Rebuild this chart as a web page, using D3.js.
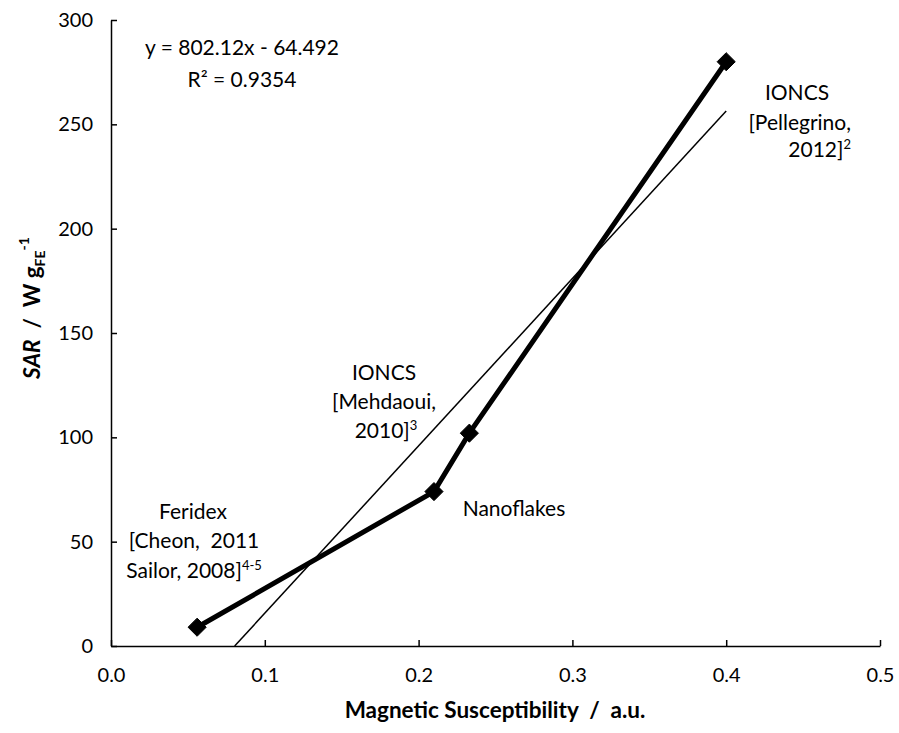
<!DOCTYPE html>
<html>
<head>
<meta charset="utf-8">
<script src="https://cdn.jsdelivr.net/npm/d3@7"></script>
<style>
  body { margin: 0; background: #fff; }
  svg { display: block; font-family: Lato, "Open Sans", sans-serif; }
  svg text { white-space: pre; }
  .axis path, .axis line { stroke: #000; stroke-width: 1.5px; }
  .axis text { font-size: 20px; fill: #000; font-family: Lato, sans-serif; }
  .lbl { font-size: 21px; fill: #000; }
</style>
</head>
<body>
<div id="chart"></div>
<script>
// SAR vs magnetic susceptibility, with linear trendline

const WIDTH = 899;
const HEIGHT = 733;
const margin = { top: 20, right: 19, bottom: 87, left: 111 };
const innerW = WIDTH - margin.left - margin.right;
const innerH = HEIGHT - margin.top - margin.bottom;

// data
const susceptibility = [0.056, 0.21, 0.233, 0.4];
const sar = [9, 74, 102, 280];

// trendline as shown by the chart
const slope = 802.12;
const intercept = -64.492;

const xTicks = [0, 0.1, 0.2, 0.3, 0.4, 0.5];
const yTicks = [0, 50, 100, 150, 200, 250, 300];

const svg = d3.select("#chart").append("svg")
  .attr("width", WIDTH)
  .attr("height", HEIGHT);

const g = svg.append("g")
  .attr("transform", `translate(${margin.left},${margin.top})`);

const x = d3.scaleLinear().domain([0, 0.5]).range([0, innerW]);
const y = d3.scaleLinear().domain([0, 300]).range([innerH, 0]);

// axes, ticks point inward
g.append("g")
  .attr("class", "axis")
  .attr("transform", `translate(0,${innerH})`)
  .call(d3.axisBottom(x).tickValues(xTicks).tickFormat(d3.format(".1f")).tickSizeInner(-6).tickSizeOuter(0).tickPadding(22));

g.append("g")
  .attr("class", "axis")
  .call(d3.axisLeft(y).tickValues(yTicks).tickSizeInner(-6).tickSizeOuter(0).tickPadding(18));

// trendline (clipped at y = 0)
const xStart = Math.max(d3.min(susceptibility), -intercept / slope);
const xEnd = d3.max(susceptibility);
g.append("line")
  .attr("x1", x(xStart)).attr("y1", y(slope * xStart + intercept))
  .attr("x2", x(xEnd)).attr("y2", y(slope * xEnd + intercept))
  .attr("stroke", "#000")
  .attr("stroke-width", 1.5);

const pts = susceptibility.map((v, i) => ({ x: v, y: sar[i] }));

g.append("path")
  .datum(pts)
  .attr("fill", "none")
  .attr("stroke", "#000")
  .attr("stroke-width", 5)
  .attr("d", d3.line().x(d => x(d.x)).y(d => y(d.y)));

g.append("g")
  .selectAll("path")
  .data(pts)
  .join("path")
  .attr("transform", d => `translate(${x(d.x)},${y(d.y)})`)
  .attr("d", d3.symbol(d3.symbolDiamond2, 210))
  .attr("stroke", "#000")
  .attr("stroke-width", 1)
  .attr("fill", "#000");

// annotations
function label(lines) {
  lines.forEach(l => {
    const t = svg.append("text")
      .attr("class", "lbl")
      .attr("x", l.x)
      .attr("y", l.y)
      .attr("text-anchor", l.anchor || "middle");
    if (l.size) t.attr("font-size", l.size);
    t.append("tspan").text(l.text);
    if (l.sup) {
      t.append("tspan").attr("font-size", 13).attr("dy", -8).text(l.sup);
    }
  });
}

label([
  { x: 242, y: 55, text: "y = 802.12x - 64.492", size: 20.5 },
  { x: 242, y: 87, text: "R² = 0.9354", size: 20.5 },
  { x: 797, y: 100, text: "IONCS" },
  { x: 851, y: 130, text: "[Pellegrino,", anchor: "end" },
  { x: 851, y: 157, text: "2012]", sup: "2", anchor: "end" },
  { x: 384, y: 380, text: "IONCS" },
  { x: 384, y: 409, text: "[Mehdaoui," },
  { x: 386, y: 438, text: "2010]", sup: "3" },
  { x: 514, y: 516, text: "Nanoflakes" },
  { x: 193, y: 519, text: "Feridex" },
  { x: 194, y: 548, text: "[Cheon,  2011" },
  { x: 194, y: 578, text: "Sailor, 2008]", sup: "4-5" }
]);

// axis titles
svg.append("text")
  .attr("x", 495)
  .attr("y", 718)
  .attr("text-anchor", "middle")
  .attr("font-size", 22.5)
  .attr("font-weight", "bold")
  .text("Magnetic Susceptibility  /  a.u.");

const yt = svg.append("text")
  .attr("transform", `translate(40,${margin.top + 288}) rotate(-90)`)
  .attr("text-anchor", "middle")
  .attr("font-size", 22.5)
  .attr("font-weight", "bold");
yt.append("tspan").attr("font-style", "italic").text("SAR");
yt.append("tspan").text("  /  W g");
yt.append("tspan").attr("font-size", 14).attr("dy", 5).text("FE");
yt.append("tspan").attr("font-size", 14).attr("dy", -16).text("-1");
</script>
</body>
</html>
